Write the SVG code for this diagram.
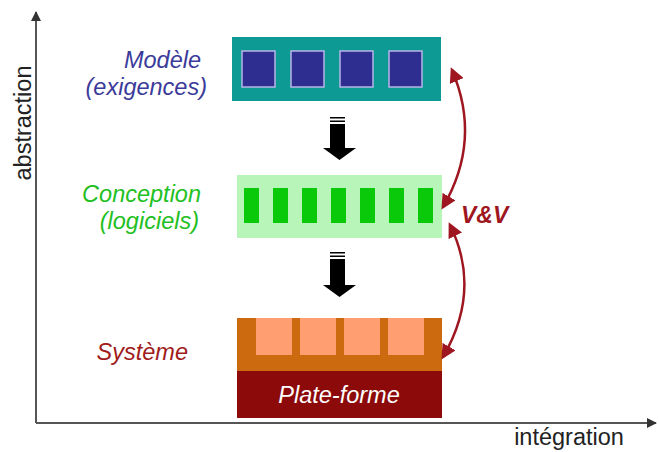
<svg xmlns="http://www.w3.org/2000/svg" width="659" height="452" viewBox="0 0 659 452">
  <defs>
    <style>
      .lbl { font-family: "Liberation Sans", Arial, sans-serif; font-style: italic; font-size: 23.5px; }
      .axis-txt { font-family: "Liberation Sans", Arial, sans-serif; font-size: 23.5px; fill: #222; }
      .axis { stroke: #555; stroke-width: 2; fill: none; }
      .vv { stroke: #9e1620; stroke-width: 2.5; fill: none; }
      .flow { fill: #000; }
    </style>
    <marker id="axhead" viewBox="0 0 10 10" refX="9" refY="5" markerWidth="5" markerHeight="5" orient="auto" markerUnits="strokeWidth">
      <path d="M0,0 L10,5 L0,10 z" fill="#333"/>
    </marker>
    <marker id="vvhead" viewBox="0 0 10 10" refX="8" refY="5" markerWidth="6" markerHeight="6" orient="auto-start-reverse" markerUnits="strokeWidth">
      <path d="M0,0 L10,5 L0,10 z" fill="#9e1620"/>
    </marker>
  </defs>

  <rect width="659" height="452" fill="#ffffff"/>

  <!-- axes -->
  <g id="axes">
    <path class="axis" d="M36,423 L36,12" marker-end="url(#axhead)"/>
    <path class="axis" d="M36,423 L656,423" marker-end="url(#axhead)"/>
    <text class="axis-txt" transform="translate(31,123) rotate(-90)" text-anchor="middle">abstraction</text>
    <text class="axis-txt" x="569" y="445" text-anchor="middle">intégration</text>
  </g>

  <!-- Modèle (exigences) level -->
  <g id="modele">
    <rect x="232" y="37" width="209" height="64" fill="#0e9a94"/>
    <g fill="#2e2e91" stroke="#b9b4e6" stroke-width="1.5">
      <rect x="242" y="51" width="33" height="36"/>
      <rect x="291" y="51" width="33" height="36"/>
      <rect x="340" y="51" width="33" height="36"/>
      <rect x="389" y="51" width="33" height="36"/>
    </g>
    <text class="lbl" fill="#3b3b9a" x="201" y="68" text-anchor="end">Modèle</text>
    <text class="lbl" fill="#3b3b9a" x="207" y="95" text-anchor="end">(exigences)</text>
  </g>

  <!-- Conception (logiciels) level -->
  <g id="conception">
    <rect x="237" y="175" width="205" height="63" fill="#b8f5b8"/>
    <g fill="#0ac90a">
      <rect x="244" y="188" width="15" height="35"/>
      <rect x="273" y="188" width="15" height="35"/>
      <rect x="302" y="188" width="15" height="35"/>
      <rect x="331" y="188" width="15" height="35"/>
      <rect x="360" y="188" width="15" height="35"/>
      <rect x="389" y="188" width="15" height="35"/>
      <rect x="418" y="188" width="15" height="35"/>
    </g>
    <text class="lbl" fill="#22c022" x="201" y="202" text-anchor="end">Conception</text>
    <text class="lbl" fill="#22c022" x="199" y="229" text-anchor="end">(logiciels)</text>
  </g>

  <!-- Système level -->
  <g id="systeme">
    <rect x="237" y="318" width="205" height="53" fill="#cc6a10"/>
    <g fill="#ff9e70">
      <rect x="256" y="318" width="36" height="37"/>
      <rect x="300" y="318" width="36" height="37"/>
      <rect x="344" y="318" width="36" height="37"/>
      <rect x="388" y="318" width="36" height="37"/>
    </g>
    <text class="lbl" fill="#a01c1c" x="188" y="360" text-anchor="end">Système</text>
  </g>

  <!-- Plate-forme -->
  <g id="plateforme">
    <rect x="237" y="371" width="205" height="47" fill="#8c0a0a"/>
    <text class="lbl" fill="#ffffff" x="339" y="403" text-anchor="middle" font-size="22">Plate-forme</text>
  </g>

  <!-- connectors -->
  <g id="connectors">
    <!-- downward refinement arrows -->
    <g class="flow">
      <rect x="330" y="117" width="15" height="1.5"/>
      <rect x="330" y="120.5" width="15" height="1.5"/>
      <rect x="330" y="124" width="15" height="25"/>
      <path d="M323,148 L356,148 L339.5,160 z"/>
    </g>
    <g class="flow">
      <rect x="330" y="252" width="15" height="1.5"/>
      <rect x="330" y="255.5" width="15" height="1.5"/>
      <rect x="330" y="259" width="15" height="26"/>
      <path d="M323,285 L356,285 L339.5,297 z"/>
    </g>
    <!-- V&V double arrows -->
    <path class="vv" d="M452,70 Q482,140 443,207" marker-start="url(#vvhead)" marker-end="url(#vvhead)"/>
    <path class="vv" d="M450,225 Q482,290 443,357" marker-start="url(#vvhead)" marker-end="url(#vvhead)"/>
    <text x="461" y="223" font-family="'Liberation Sans', Arial, sans-serif" font-style="italic" font-weight="bold" font-size="23" fill="#9e1620">V&amp;V</text>
  </g>
</svg>
